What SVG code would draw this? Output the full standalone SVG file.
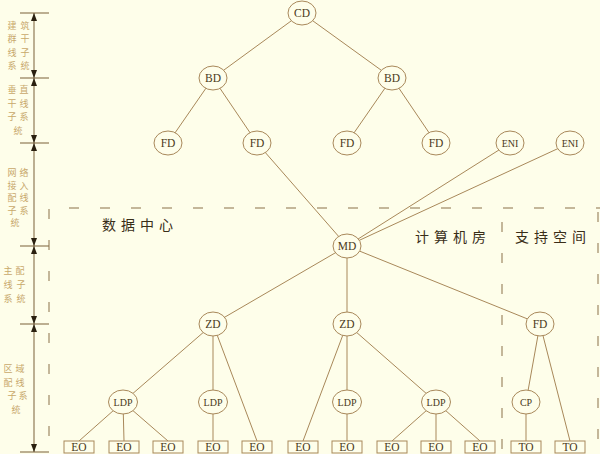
<svg xmlns="http://www.w3.org/2000/svg" width="600" height="454" viewBox="0 0 600 454">
<defs>
<style>
.bg{fill:#fefeea}
.ln{stroke:#a8885a;stroke-width:1;fill:none}
.nd ellipse{fill:#fefeea;stroke:#a8885a;stroke-width:1}
.nd rect{fill:#fefeea;stroke:#a8885a;stroke-width:1}
.nd text{font-family:"Liberation Serif",serif;font-size:11.5px;fill:#4a3a20;text-anchor:middle}
.sm text{font-size:10px}
.dash{stroke:#8a7048;stroke-width:1;fill:none;stroke-dasharray:10 21}
.dim{stroke:#7a6038;stroke-width:1;fill:none}
.zone{font-family:"Noto Sans CJK SC",sans-serif;font-size:14px;fill:#3a2e18;letter-spacing:5px}
.lab{font-family:"Noto Sans CJK SC",sans-serif;font-size:9px;fill:#c8a86a;text-anchor:middle}
</style>
<marker id="ar" viewBox="0 0 8 6" refX="8" refY="3" markerWidth="8" markerHeight="6" markerUnits="userSpaceOnUse" orient="auto-start-reverse">
<path d="M0,0 L8,3 L0,6 z" fill="#2a2010"/>
</marker>
</defs>
<rect class="bg" x="0" y="0" width="600" height="454"/>

<g id="dimension">
<line class="dim" x1="20" y1="13" x2="49" y2="13"/>
<line class="dim" x1="20" y1="78" x2="49" y2="78"/>
<line class="dim" x1="20" y1="143" x2="49" y2="143"/>
<line class="dim" x1="20" y1="246" x2="49" y2="246"/>
<line class="dim" x1="20" y1="324" x2="49" y2="324"/>
<line class="dim" x1="20" y1="452" x2="49" y2="452"/>
<line class="dim" x1="34" y1="13" x2="34" y2="78" marker-start="url(#ar)" marker-end="url(#ar)"/>
<line class="dim" x1="34" y1="78" x2="34" y2="143" marker-start="url(#ar)" marker-end="url(#ar)"/>
<line class="dim" x1="34" y1="143" x2="34" y2="246" marker-start="url(#ar)" marker-end="url(#ar)"/>
<line class="dim" x1="34" y1="246" x2="34" y2="324" marker-start="url(#ar)" marker-end="url(#ar)"/>
<line class="dim" x1="34" y1="324" x2="34" y2="452" marker-start="url(#ar)" marker-end="url(#ar)"/>
</g>

<g id="labels">
<text class="lab" x="12" y="28.5">建</text><text class="lab" x="25" y="28.5">筑</text>
<text class="lab" x="12" y="42">群</text><text class="lab" x="25" y="42">干</text>
<text class="lab" x="12" y="55.5">线</text><text class="lab" x="25" y="55.5">子</text>
<text class="lab" x="12" y="69">系</text><text class="lab" x="25" y="69">统</text>

<text class="lab" x="12" y="93">垂</text><text class="lab" x="24" y="93">直</text>
<text class="lab" x="12" y="106.5">干</text><text class="lab" x="24" y="106.5">线</text>
<text class="lab" x="12" y="120">子</text><text class="lab" x="24" y="120">系</text>
<text class="lab" x="18" y="133.5">统</text>

<text class="lab" x="12" y="176">网</text><text class="lab" x="24" y="176">络</text>
<text class="lab" x="12" y="188.5">接</text><text class="lab" x="24" y="188.5">入</text>
<text class="lab" x="12" y="201">配</text><text class="lab" x="24" y="201">线</text>
<text class="lab" x="12" y="213.5">子</text><text class="lab" x="24" y="213.5">系</text>
<text class="lab" x="15" y="226">统</text>

<text class="lab" x="8" y="274">主</text><text class="lab" x="20" y="274">配</text>
<text class="lab" x="8" y="288">线</text><text class="lab" x="21" y="288">子</text>
<text class="lab" x="8" y="302">系</text><text class="lab" x="21" y="302">统</text>

<text class="lab" x="8" y="372">区</text><text class="lab" x="20" y="372">域</text>
<text class="lab" x="8" y="385.5">配</text><text class="lab" x="20" y="385.5">线</text>
<text class="lab" x="12" y="399">子</text><text class="lab" x="23" y="399">系</text>
<text class="lab" x="16" y="412.5">统</text>
</g>

<g id="zones">
<path class="dash" d="M49,436 L49,208 L600,208"/>
<line class="dash" x1="502" y1="222" x2="502" y2="454"/>
<line class="dash" x1="598" y1="212" x2="598" y2="454"/>
<text class="zone" x="102" y="230">数据中心</text>
<text class="zone" x="415" y="242">计算机房</text>
<text class="zone" x="515" y="242">支持空间</text>
</g>

<g id="connectors">
<line class="ln" x1="302" y1="13" x2="213" y2="78"/>
<line class="ln" x1="302" y1="13" x2="392" y2="78"/>
<line class="ln" x1="213" y1="78" x2="168" y2="143"/>
<line class="ln" x1="213" y1="78" x2="257" y2="143"/>
<line class="ln" x1="392" y1="78" x2="347" y2="143"/>
<line class="ln" x1="392" y1="78" x2="436" y2="143"/>
<line class="ln" x1="257" y1="143" x2="347" y2="246"/>
<line class="ln" x1="510" y1="143" x2="347" y2="246"/>
<line class="ln" x1="570" y1="143" x2="347" y2="246"/>
<line class="ln" x1="347" y1="246" x2="213" y2="324"/>
<line class="ln" x1="347" y1="246" x2="347" y2="324"/>
<line class="ln" x1="347" y1="246" x2="540" y2="324"/>
<line class="ln" x1="213" y1="324" x2="123" y2="402"/>
<line class="ln" x1="213" y1="324" x2="213" y2="402"/>
<line class="ln" x1="213" y1="324" x2="257" y2="441"/>
<line class="ln" x1="347" y1="324" x2="303" y2="441"/>
<line class="ln" x1="347" y1="324" x2="347" y2="402"/>
<line class="ln" x1="347" y1="324" x2="436" y2="402"/>
<line class="ln" x1="540" y1="324" x2="526" y2="402"/>
<line class="ln" x1="540" y1="324" x2="570" y2="441"/>
<line class="ln" x1="123" y1="402" x2="79" y2="441"/>
<line class="ln" x1="123" y1="402" x2="124" y2="441"/>
<line class="ln" x1="123" y1="402" x2="168" y2="441"/>
<line class="ln" x1="213" y1="402" x2="213" y2="441"/>
<line class="ln" x1="347" y1="402" x2="347" y2="441"/>
<line class="ln" x1="436" y1="402" x2="392" y2="441"/>
<line class="ln" x1="436" y1="402" x2="436" y2="441"/>
<line class="ln" x1="436" y1="402" x2="480" y2="441"/>
<line class="ln" x1="526" y1="402" x2="526" y2="441"/>
</g>

<g id="CD" class="nd"><ellipse cx="302" cy="13" rx="14" ry="12"/><text x="302" y="17">CD</text></g>
<g id="BD1" class="nd"><ellipse cx="213" cy="78" rx="14" ry="12"/><text x="213" y="82">BD</text></g>
<g id="BD2" class="nd"><ellipse cx="392" cy="78" rx="14" ry="12"/><text x="392" y="82">BD</text></g>
<g id="FD1" class="nd"><ellipse cx="168" cy="143" rx="14" ry="12"/><text x="168" y="147">FD</text></g>
<g id="FD2" class="nd"><ellipse cx="257" cy="143" rx="14" ry="12"/><text x="257" y="147">FD</text></g>
<g id="FD3" class="nd"><ellipse cx="347" cy="143" rx="14" ry="12"/><text x="347" y="147">FD</text></g>
<g id="FD4" class="nd"><ellipse cx="436" cy="143" rx="14" ry="12"/><text x="436" y="147">FD</text></g>
<g id="ENI1" class="nd sm"><ellipse cx="510" cy="143" rx="14" ry="12"/><text x="510" y="146.5">ENI</text></g>
<g id="ENI2" class="nd sm"><ellipse cx="570" cy="143" rx="14" ry="12"/><text x="570" y="146.5">ENI</text></g>
<g id="MD" class="nd"><ellipse cx="347" cy="246" rx="14" ry="12"/><text x="347" y="250">MD</text></g>
<g id="ZD1" class="nd"><ellipse cx="213" cy="324" rx="14" ry="12"/><text x="213" y="328">ZD</text></g>
<g id="ZD2" class="nd"><ellipse cx="347" cy="324" rx="14" ry="12"/><text x="347" y="328">ZD</text></g>
<g id="FD5" class="nd"><ellipse cx="540" cy="324" rx="14" ry="12"/><text x="540" y="328">FD</text></g>
<g id="LDP1" class="nd sm"><ellipse cx="123" cy="402" rx="14.5" ry="12"/><text x="123" y="405.5">LDP</text></g>
<g id="LDP2" class="nd sm"><ellipse cx="213" cy="402" rx="14.5" ry="12"/><text x="213" y="405.5">LDP</text></g>
<g id="LDP3" class="nd sm"><ellipse cx="347" cy="402" rx="14.5" ry="12"/><text x="347" y="405.5">LDP</text></g>
<g id="LDP4" class="nd sm"><ellipse cx="436" cy="402" rx="14.5" ry="12"/><text x="436" y="405.5">LDP</text></g>
<g id="CP" class="nd sm"><ellipse cx="526" cy="402" rx="14" ry="12"/><text x="526" y="405.5">CP</text></g>

<g id="EO1" class="nd"><rect x="64" y="441" width="30" height="12"/><text x="79" y="451">EO</text></g>
<g id="EO2" class="nd"><rect x="109" y="441" width="30" height="12"/><text x="124" y="451">EO</text></g>
<g id="EO3" class="nd"><rect x="153" y="441" width="30" height="12"/><text x="168" y="451">EO</text></g>
<g id="EO4" class="nd"><rect x="198" y="441" width="30" height="12"/><text x="213" y="451">EO</text></g>
<g id="EO5" class="nd"><rect x="242" y="441" width="30" height="12"/><text x="257" y="451">EO</text></g>
<g id="EO6" class="nd"><rect x="288" y="441" width="30" height="12"/><text x="303" y="451">EO</text></g>
<g id="EO7" class="nd"><rect x="332" y="441" width="30" height="12"/><text x="347" y="451">EO</text></g>
<g id="EO8" class="nd"><rect x="377" y="441" width="30" height="12"/><text x="392" y="451">EO</text></g>
<g id="EO9" class="nd"><rect x="421" y="441" width="30" height="12"/><text x="436" y="451">EO</text></g>
<g id="EO10" class="nd"><rect x="465" y="441" width="30" height="12"/><text x="480" y="451">EO</text></g>
<g id="TO1" class="nd"><rect x="511" y="441" width="30" height="12"/><text x="526" y="451">TO</text></g>
<g id="TO2" class="nd"><rect x="555" y="441" width="30" height="12"/><text x="570" y="451">TO</text></g>
</svg>
